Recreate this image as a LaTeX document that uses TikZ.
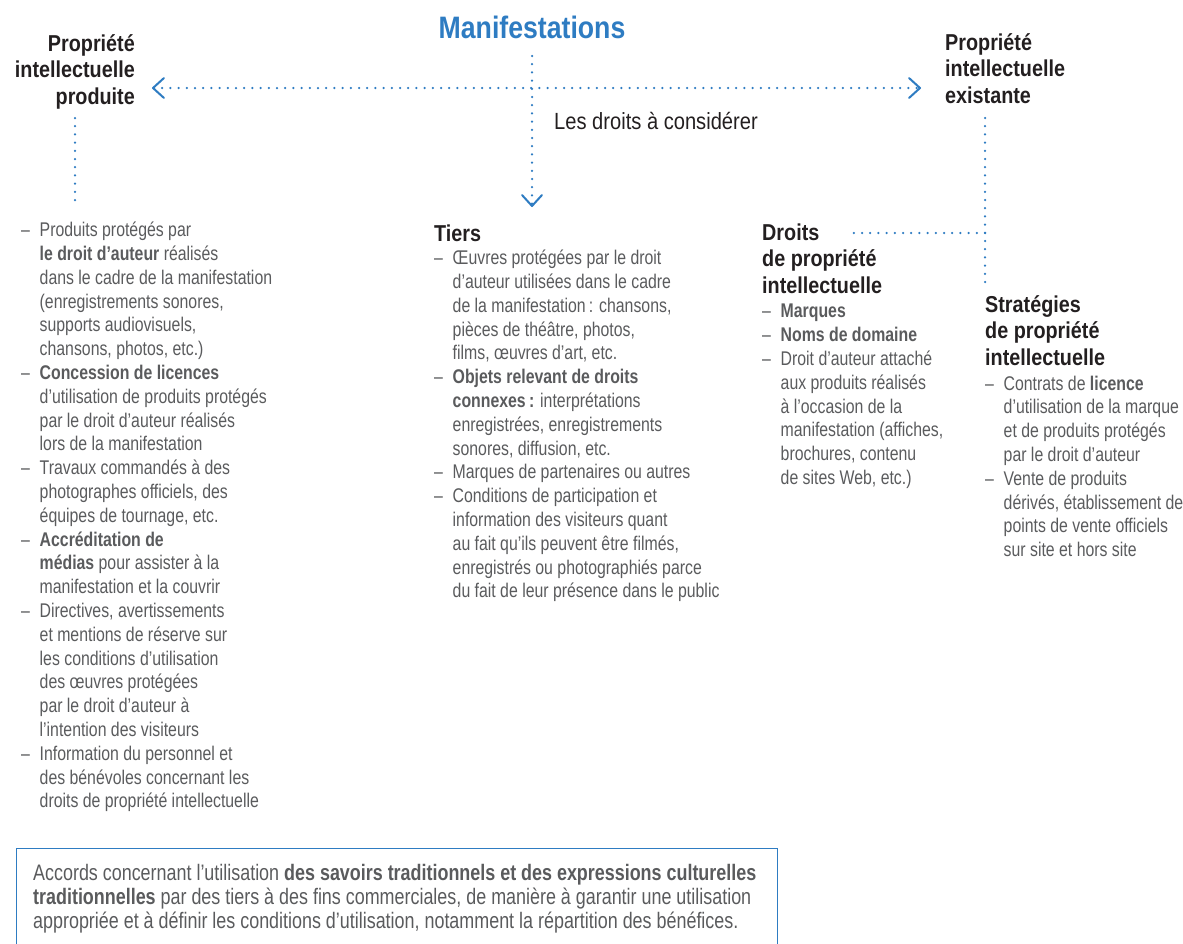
\documentclass[tikz,border=0pt]{standalone}
\usepackage{fontspec}
\setmainfont[FakeStretch=0.80]{Liberation Sans}
\newfontfamily\hdfont[FakeStretch=0.86]{Liberation Sans}
\usetikzlibrary{arrows.meta}
\definecolor{ipblue}{HTML}{2E7CC2}
\definecolor{bodygray}{HTML}{5A5B5D}
\definecolor{headdark}{HTML}{231F20}
\newcommand{\dli}{\makebox[18.5pt][l]{–}}
\newcommand{\cli}{\makebox[18.5pt][l]{}}
\begin{document}
\begin{tikzpicture}[x=1pt,y=-1pt,
  dotline/.style={ipblue, line width=2.5pt, line cap=round, dash pattern=on 0pt off 8.2pt},
  chev/.tip={Straight Barb[length=11pt,width=20pt,line width=2pt,round]},
  titlestyle/.style={font=\hdfont\fontsize{31}{36}\selectfont\bfseries, text=ipblue, inner sep=0pt},
  headstyle/.style={font=\hdfont\fontsize{23}{26.5}\selectfont\bfseries, text=headdark, inner sep=0pt},
  substyle/.style={font=\hdfont\fontsize{23.4}{28}\selectfont, text=headdark, inner sep=0pt},
  bodystyle/.style={font=\fontsize{19.8}{23.8}\selectfont, text=bodygray, inner sep=0pt, align=left},
  boxtextstyle/.style={font=\fontsize{22.4}{24}\selectfont, text=bodygray, inner sep=0pt, align=left},
  framebox/.style={draw=ipblue, line width=1.3pt, minimum width=761pt, minimum height=120pt, inner sep=0pt}
]
\useasboundingbox (0,0) rectangle (1183,943);

% top level
\node[titlestyle] (title) at (532,27) {Manifestations};
\node[headstyle, align=right, anchor=north east] (lh) at (135,34) {Propriété\\intellectuelle\\produite};
\node[headstyle, align=left, anchor=north west] (rh) at (945,33) {Propriété\\intellectuelle\\existante};
\node[substyle, anchor=base west] (les) at (554,129) {Les droits à considérer};

% connectors
\coordinate (hl) at (152,88);
\coordinate (hr) at (921,88);
\coordinate (vt) at (532,56);
\coordinate (vb) at (532,207);
\coordinate (lt) at (75,118);
\coordinate (lb) at (75,205);
\coordinate (rt) at (985,118);
\coordinate (rb) at (985,283);
\coordinate (rj) at (985,233);
\coordinate (rl) at (852,233);
\draw[dotline, {chev}-{chev}] (hl) -- (hr);
\draw[dotline, -{chev}] (vt) -- (vb);
\draw[dotline] (lt) -- (lb);
\draw[dotline] (rt) -- (rb);
\draw[dotline] (rj) -- (rl);

% left column
\node[bodystyle, anchor=north west] (ll) at (21,222) {%
\dli Produits protégés par\\
\cli\textbf{le droit d’auteur} réalisés\\
\cli dans le cadre de la manifestation\\
\cli (enregistrements sonores,\\
\cli supports audiovisuels,\\
\cli chansons, photos, etc.)\\
\dli\textbf{Concession de licences}\\
\cli d’utilisation de produits protégés\\
\cli par le droit d’auteur réalisés\\
\cli lors de la manifestation\\
\dli Travaux commandés à des\\
\cli photographes officiels, des\\
\cli équipes de tournage, etc.\\
\dli\textbf{Accréditation de}\\
\cli\textbf{médias} pour assister à la\\
\cli manifestation et la couvrir\\
\dli Directives, avertissements\\
\cli et mentions de réserve sur\\
\cli les conditions d’utilisation\\
\cli des œuvres protégées\\
\cli par le droit d’auteur à\\
\cli l’intention des visiteurs\\
\dli Information du personnel et\\
\cli des bénévoles concernant les\\
\cli droits de propriété intellectuelle};

% Tiers
\node[headstyle, anchor=base west] (th) at (434,241) {Tiers};
\node[bodystyle, anchor=north west] (tl) at (434,250) {%
\dli Œuvres protégées par le droit\\
\cli d’auteur utilisées dans le cadre\\
\cli de la manifestation\,: chansons,\\
\cli pièces de théâtre, photos,\\
\cli films, œuvres d’art, etc.\\
\dli\textbf{Objets relevant de droits}\\
\cli\textbf{connexes\,:} interprétations\\
\cli enregistrées, enregistrements\\
\cli sonores, diffusion, etc.\\
\dli Marques de partenaires ou autres\\
\dli Conditions de participation et\\
\cli information des visiteurs quant\\
\cli au fait qu’ils peuvent être filmés,\\
\cli enregistrés ou photographiés parce\\
\cli du fait de leur présence dans le public};

% Droits de PI
\node[headstyle, align=left, anchor=north west] (dh) at (762,223.5) {Droits\\de propriété\\intellectuelle};
\node[bodystyle, anchor=north west] (dl) at (762,304) {%
\dli\textbf{Marques}\\
\dli\textbf{Noms de domaine}\\
\dli Droit d’auteur attaché\\
\cli aux produits réalisés\\
\cli à l’occasion de la\\
\cli manifestation (affiches,\\
\cli brochures, contenu\\
\cli de sites Web, etc.)};

% Strategies
\node[headstyle, align=left, anchor=north west] (sh) at (985,295) {Stratégies\\de propriété\\intellectuelle};
\node[bodystyle, anchor=north west] (sl) at (985,375.5) {%
\dli Contrats de \textbf{licence}\\
\cli d’utilisation de la marque\\
\cli et de produits protégés\\
\cli par le droit d’auteur\\
\dli Vente de produits\\
\cli dérivés, établissement de\\
\cli points de vente officiels\\
\cli sur site et hors site};

% bottom box
\node[framebox, anchor=north west] (box) at (16,848) {};
\node[boxtextstyle, anchor=north west] (boxtext) at (33,864.5) {%
Accords concernant l’utilisation \textbf{des savoirs traditionnels et des expressions culturelles}\\
\textbf{traditionnelles} par des tiers à des fins commerciales, de manière à garantir une utilisation\\
appropriée et à définir les conditions d’utilisation, notamment la répartition des bénéfices.};
\end{tikzpicture}
\end{document}
